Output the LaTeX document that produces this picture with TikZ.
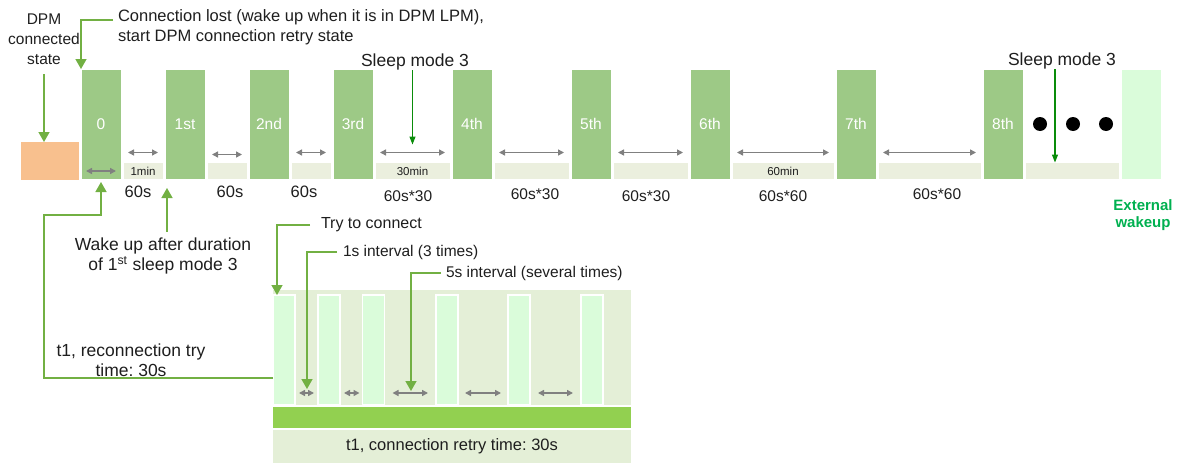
\documentclass[tikz,border=0pt]{standalone}
\usepackage{fontspec}
\setmainfont{Liberation Sans}
\usetikzlibrary{arrows.meta, positioning}
\frenchspacing

\definecolor{boxgreen}{HTML}{9DC986}
\definecolor{sleepfill}{HTML}{EBEFDE}
\definecolor{wakefill}{HTML}{DAFCDA}
\definecolor{orangefill}{HTML}{F8C08E}
\definecolor{retryfill}{HTML}{E4EFD7}
\definecolor{barfill}{HTML}{92D050}
\definecolor{callgreen}{HTML}{72B043}
\definecolor{darkgreen}{HTML}{0A8C0A}
\definecolor{dimgray}{HTML}{808080}
\definecolor{extgreen}{HTML}{00B050}
\definecolor{txt}{HTML}{1E1E1E}

\begin{document}
\begin{tikzpicture}[
  x=1pt, y=-1pt,
  every node/.style={inner sep=0, outer sep=0, text=txt, font=\fontsize{15.5}{20}\selectfont},
  big/.style={font=\fontsize{17.5}{20}\selectfont},
  tbox/.style={fill=boxgreen, draw=white, line width=1pt, text=white, minimum width=40pt, minimum height=110pt},
  sbox/.style={fill=sleepfill, draw=white, line width=1pt, minimum height=17pt, font=\fontsize{11.5}{13}\selectfont},
  pulse/.style={fill=wakefill, draw=white, line width=1.5pt, minimum width=22pt, minimum height=110pt},
  band/.style={minimum width=358pt},
  dimarrow/.style={{Triangle[length=6pt,width=6pt]}-{Triangle[length=6pt,width=6pt]}, draw=dimgray, line width=1.5pt, shorten <=5pt, shorten >=5pt},
  arrow/.style={-{Triangle[length=10pt,width=11pt]}, draw=callgreen, line width=1.5pt},
  sleeparrow/.style={-{Triangle[length=8pt,width=6pt]}, draw=darkgreen, line width=1.2pt},
  dot/.style={circle, fill=black, minimum size=14pt}
]
\useasboundingbox (0,0) rectangle (1179,463);

% top row: retry slots and sleep gaps
\node[fill=orangefill, minimum width=58pt, minimum height=38pt] (dpmbox) at (50,161) {};
\node[tbox] (b0) at (101,124) {0};
\node[tbox] (b1) at (185,124) {1st};
\node[tbox] (b2) at (269,124) {2nd};
\node[tbox] (b3) at (353,124) {3rd};
\node[tbox] (b4) at (472,124) {4th};
\node[tbox] (b5) at (591,124) {5th};
\node[tbox] (b6) at (710,124) {6th};
\node[tbox] (b7) at (856,124) {7th};
\node[tbox] (b8) at (1003,124) {8th};
\node[tbox, fill=wakefill] (ext) at (1141.5,124) {};

\node[sbox, minimum width=40pt] (s1) at (143,171) {1min};
\node[sbox, minimum width=40pt] (s2) at (227,171) {};
\node[sbox, minimum width=40pt] (s3) at (311,171) {};
\node[sbox, minimum width=75pt] (s4) at (412.5,171) {30min};
\node[sbox, minimum width=75pt] (s5) at (531.5,171) {};
\node[sbox, minimum width=75pt] (s6) at (650.5,171) {};
\node[sbox, minimum width=102pt] (s7) at (783,171) {60min};
\node[sbox, minimum width=103pt] (s8) at (929.5,171) {};
\node[sbox, minimum width=94pt] (s9) at (1072,171) {};

\draw[dimarrow] ([yshift=8pt]b0.south west) -- ([yshift=8pt]b0.south east);
\draw[dimarrow] ([yshift=10pt]s1.north west) -- ([yshift=10pt]s1.north east);
\draw[dimarrow] ([yshift=8pt]s2.north west) -- ([yshift=8pt]s2.north east);
\draw[dimarrow] ([yshift=10pt]s3.north west) -- ([yshift=10pt]s3.north east);
\draw[dimarrow] ([yshift=10pt]s4.north west) -- ([yshift=10pt]s4.north east);
\draw[dimarrow] ([yshift=10pt]s5.north west) -- ([yshift=10pt]s5.north east);
\draw[dimarrow] ([yshift=10pt]s6.north west) -- ([yshift=10pt]s6.north east);
\draw[dimarrow] ([yshift=10pt]s7.north west) -- ([yshift=10pt]s7.north east);
\draw[dimarrow] ([yshift=10pt]s8.north west) -- ([yshift=10pt]s8.north east);

\node[dot] (d1) at (1040,124) {};
\node[dot] (d2) at (1073,124) {};
\node[dot] (d3) at (1106,124) {};

\node[font=\fontsize{16.5}{20}\selectfont] (l1) at (138,192) {60s};
\node[font=\fontsize{16.5}{20}\selectfont] (l2) at (230,192) {60s};
\node[font=\fontsize{16.5}{20}\selectfont] (l3) at (304,192) {60s};
\node (l4) at (408,196) {60s*30};
\node (l5) at (535,194) {60s*30};
\node (l6) at (646,196) {60s*30};
\node (l7) at (783,196) {60s*60};
\node (l8) at (937,194) {60s*60};
\node[align=center, text=extgreen, font=\bfseries\fontsize{15}{17}\selectfont] (extlbl) at (1143,215) {External\\wakeup};

% callouts on the top row
\node[align=center] (dpm) at (44,39) {DPM\\connected\\state};
\draw[arrow] ([yshift=-10pt]dpm.south) -- (dpm.south |- dpmbox.north);

\node[anchor=west, align=left, font=\fontsize{16.5}{20}\selectfont] (lost) at (118,27) {Connection lost (wake up when it is in DPM LPM),\\start DPM connection retry state};
\draw[arrow] ([xshift=-5pt,yshift=7pt]lost.west) -| (b0.north west);

\node[big] (sm1) at (415,62) {Sleep mode 3};
\draw[sleeparrow] (sm1.south -| s4.north) -- ([yshift=18pt]s4.north);
\node[big] (sm2) at (1062,61) {Sleep mode 3};
\draw[sleeparrow] ([xshift=-17pt]s9.north |- sm2.south) -- ([xshift=-17pt]s9.north);

\node[big, align=center] (wake) at (163,256) {Wake up after duration\\of 1\textsuperscript{st} sleep mode 3};
\coordinate (wk) at (167,188);
\draw[arrow] ([yshift=6pt]wake.north -| wk) -- (wk);

% connection retry detail
\node[fill=retryfill, band, minimum height=115pt] (retry) at (452,347.5) {};
\node[pulse] (p1) at (284,350) {};
\node[pulse] (p2) at (329,350) {};
\node[pulse] (p3) at (373.5,350) {};
\node[pulse] (p4) at (447,350) {};
\node[pulse] (p5) at (519,350) {};
\node[pulse] (p6) at (592,350) {};
\node[fill=barfill, band, minimum height=21pt] (bar) at (452,417.5) {};
\node[fill=retryfill, band, minimum height=33pt, font=\fontsize{16.5}{20}\selectfont] (total) at (452,446.5) {t1, connection retry time: 30s};

\draw[dimarrow, shorten <=4pt, shorten >=4pt] ([yshift=12pt]p1.south east) -- ([yshift=12pt]p2.south west);
\draw[dimarrow, shorten <=4pt, shorten >=3pt] ([yshift=12pt]p2.south east) -- ([yshift=12pt]p3.south west);
\draw[dimarrow, shorten <=8pt, shorten >=8pt] ([yshift=12pt]p3.south east) -- ([yshift=12pt]p4.south west);
\draw[dimarrow, shorten <=7pt, shorten >=7pt] ([yshift=12pt]p4.south east) -- ([yshift=12pt]p5.south west);
\draw[dimarrow, shorten <=8pt, shorten >=8pt] ([yshift=12pt]p5.south east) -- ([yshift=12pt]p6.south west);

\node[big, align=center] (t1lbl) at (131,360) {t1, reconnection try\\time: 30s};
\draw[arrow] (retry.west |- 0,378) -| (44,215) -| ([yshift=-3pt]b0.south);

\node[anchor=west, font=\fontsize{16}{20}\selectfont] (try) at (321,225) {Try to connect};
\draw[arrow] ([xshift=-11pt]try.west) -| ([xshift=4pt]p1.north west);

\node[anchor=west] (onei) at (343,252) {1s interval (3 times)};
\coordinate (m1) at (307,389);
\draw[arrow] ([xshift=-6pt]onei.west) -| (m1);

\node[anchor=west] (fivei) at (446,273) {5s interval (several times)};
\coordinate (m2) at (411,391);
\draw[arrow] ([xshift=-5pt]fivei.west) -| (m2);
\end{tikzpicture}
\end{document}
